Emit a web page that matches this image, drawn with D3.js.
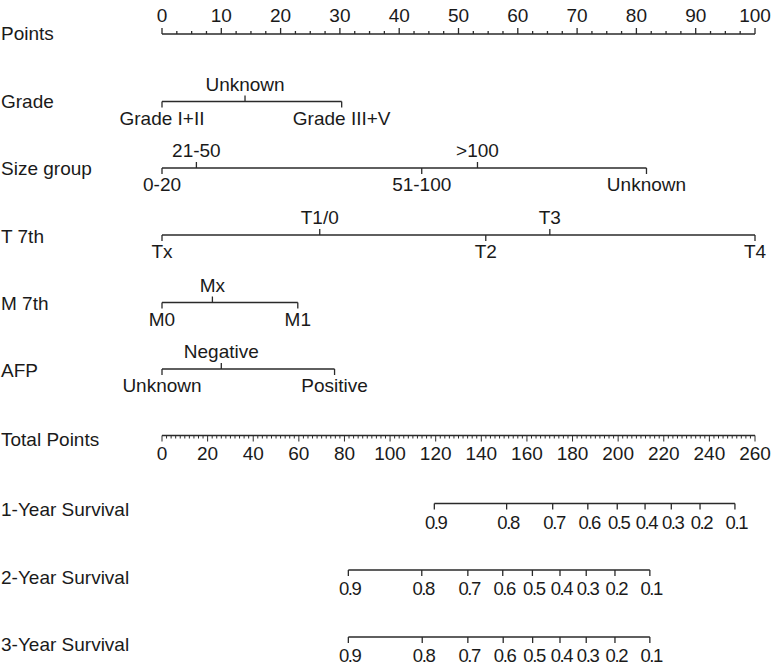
<!DOCTYPE html>
<html>
<head>
<meta charset="utf-8">
<script src="https://cdn.jsdelivr.net/npm/d3@7"></script>
<style>
  html, body { margin: 0; padding: 0; background: #fff; }
  svg text { font-family: "Liberation Sans", Arial, Helvetica, sans-serif; font-size: 19px; fill: #1a1a1a; }
  svg text.surv { font-size: 18.5px; letter-spacing: -1.4px; }
</style>
</head>
<body>
<svg id="chart" width="779" height="668"></svg>
<script>
// ---- data ----
const pointsTicks = [0, 10, 20, 30, 40, 50, 60, 70, 80, 90, 100];
const totalTicks = [0, 20, 40, 60, 80, 100, 120, 140, 160, 180, 200, 220, 240, 260];

const gradeLevels = ["Grade I+II", "Unknown", "Grade III+V"];
const gradePoints = [0, 14, 30.3];

const sizeLevels = ["0-20", "21-50", "51-100", ">100", "Unknown"];
const sizePoints = [0, 5.8, 43.8, 53.2, 81.7];

const tLevels = ["Tx", "T1/0", "T2", "T3", "T4"];
const tPoints = [0, 26.6, 54.6, 65.4, 100];

const mLevels = ["M0", "Mx", "M1"];
const mPoints = [0, 8.5, 22.9];

const afpLevels = ["Unknown", "Negative", "Positive"];
const afpPoints = [0, 10, 29.1];

const survLabels = ["0.9", "0.8", "0.7", "0.6", "0.5", "0.4", "0.3", "0.2", "0.1"];
const surv1Total = [119.4, 151.1, 171.3, 186.7, 199.6, 211.8, 223.3, 235.9, 251.2];
const surv2Total = [81.7, 113.9, 134.1, 149.4, 162.4, 174.5, 186.0, 198.6, 213.9];
const surv3Total = [81.7, 114.1, 134.1, 149.6, 162.5, 174.5, 186.0, 198.6, 213.9];

// ---- layout ----
const svg = d3.select("#chart");
const x0 = 162, x1 = 755;
const xPts = d3.scaleLinear().domain([0, 100]).range([x0, x1]);
const xTot = d3.scaleLinear().domain([0, 260]).range([x0, x1]);
const stroke = "#2a2a2a", sw = 1.3;

function rowLabel(text, y) {
  svg.append("text").attr("x", 1).attr("y", y).attr("dominant-baseline", "central").text(text);
}

// Points axis (ticks up, labels above)
(function () {
  const y = 34;
  rowLabel("Points", 33);
  const g = svg.append("g");
  g.append("line").attr("x1", xPts(0)).attr("x2", xPts(100)).attr("y1", y).attr("y2", y)
    .attr("stroke", stroke).attr("stroke-width", sw);
  const minor = d3.range(0, 100.01, 2.5);
  g.selectAll("line.mn").data(minor).join("line")
    .attr("x1", d => xPts(d)).attr("x2", d => xPts(d))
    .attr("y1", y).attr("y2", d => (d % 10 === 0 ? y - 6 : y - 3))
    .attr("stroke", stroke).attr("stroke-width", sw);
  g.selectAll("text").data(pointsTicks).join("text")
    .attr("x", d => xPts(d)).attr("y", 22).attr("text-anchor", "middle").text(d => d);
})();

// categorical rows
function catRow(name, levels, pts, y, labelY) {
  rowLabel(name, labelY);
  const g = svg.append("g");
  const ext = d3.extent(pts);
  g.append("line").attr("x1", xPts(ext[0])).attr("x2", xPts(ext[1])).attr("y1", y).attr("y2", y)
    .attr("stroke", stroke).attr("stroke-width", sw);
  const order = d3.range(levels.length).sort((a, b) => pts[a] - pts[b]);
  const items = order.map((i, k) => ({ label: levels[i], p: pts[i], up: k % 2 === 1 }));
  g.selectAll("line.t").data(items).join("line")
    .attr("x1", d => xPts(d.p)).attr("x2", d => xPts(d.p))
    .attr("y1", y).attr("y2", d => d.up ? y - 6 : y + 6)
    .attr("stroke", stroke).attr("stroke-width", sw);
  g.selectAll("text").data(items).join("text")
    .attr("x", d => xPts(d.p)).attr("y", d => d.up ? y - 11 : y + 23)
    .attr("text-anchor", "middle").text(d => d.label);
}

catRow("Grade", gradeLevels, gradePoints, 101.5, 101);
catRow("Size group", sizeLevels, sizePoints, 168, 168);
catRow("T 7th", tLevels, tPoints, 235, 236);
catRow("M 7th", mLevels, mPoints, 302.5, 303);
catRow("AFP", afpLevels, afpPoints, 369, 370);

// Total points axis (ticks down, labels below)
(function () {
  const y = 435.5;
  rowLabel("Total Points", 439);
  const g = svg.append("g");
  g.append("line").attr("x1", xTot(0)).attr("x2", xTot(260)).attr("y1", y).attr("y2", y)
    .attr("stroke", stroke).attr("stroke-width", sw);
  const minor = d3.range(0, 260.01, 2);
  g.selectAll("line.mn").data(minor).join("line")
    .attr("x1", d => xTot(d)).attr("x2", d => xTot(d))
    .attr("y1", y).attr("y2", d => (d % 20 === 0 ? y + 6 : y + 3))
    .attr("stroke", stroke).attr("stroke-width", 1);
  g.selectAll("text").data(totalTicks).join("text")
    .attr("x", d => xTot(d)).attr("y", 460).attr("text-anchor", "middle").text(d => d);
})();

// survival rows
function survRow(name, vals, y, labelY) {
  rowLabel(name, labelY);
  const g = svg.append("g");
  const ext = d3.extent(vals);
  g.append("line").attr("x1", xTot(ext[0])).attr("x2", xTot(ext[1])).attr("y1", y).attr("y2", y)
    .attr("stroke", stroke).attr("stroke-width", sw);
  const items = vals.map((v, i) => ({ v, label: survLabels[i] }));
  g.selectAll("line.t").data(items).join("line")
    .attr("x1", d => xTot(d.v)).attr("x2", d => xTot(d.v))
    .attr("y1", y).attr("y2", y + 6)
    .attr("stroke", stroke).attr("stroke-width", sw);
  g.selectAll("text").data(items).join("text")
    .attr("class", "surv")
    .attr("x", d => xTot(d.v) + 1.4).attr("y", y + 25).attr("text-anchor", "middle").text(d => d.label);
}

survRow("1-Year Survival", surv1Total, 503.5, 509);
survRow("2-Year Survival", surv2Total, 570, 577);
survRow("3-Year Survival", surv3Total, 637, 644);
</script>
</body>
</html>
